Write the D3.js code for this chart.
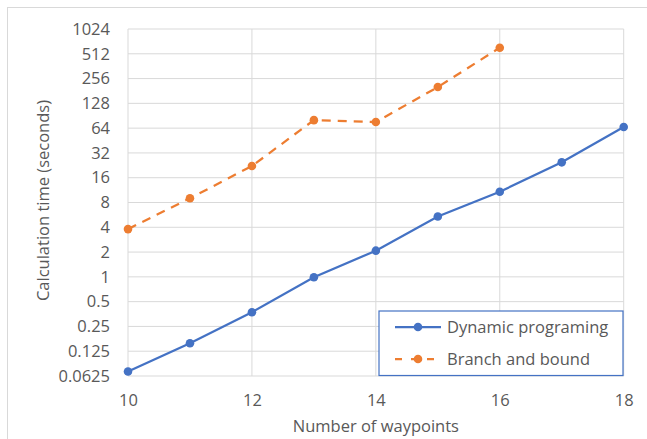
<!DOCTYPE html>
<html><head><meta charset="utf-8">
<script src="https://cdn.jsdelivr.net/npm/d3@7"></script>
<style>body{margin:0;background:#fff}svg{display:block}text{font-family:"Open Sans",sans-serif;fill:#595959}</style>
</head><body><svg id="c" width="647" height="439"></svg>
<script>
const waypoints = [10,11,12,13,14,15,16,17,18];
const dynamicProgramming = [0.071,0.156,0.372,0.99,2.08,5.4,10.8,24.6,66];
const branchAndBound = [3.8,9.0,22.2,80,76,202,607];
const yTicks = [0.0625,0.125,0.25,0.5,1,2,4,8,16,32,64,128,256,512,1024];
const xTicks = [10,12,14,16,18];
const seriesNames = ["Dynamic programing","Branch and bound"];

const FS = "16.5px";
const svg = d3.select("#c");
const L=128,R=623.7,T=29,B=376;
svg.append("rect").attr("x",7.5).attr("y",7.5).attr("width",700).attr("height",500)
  .attr("fill","none").attr("stroke","#d9d9d9");
const x = d3.scaleLinear().domain([10,18]).range([L,R]);
const y = d3.scaleLog().base(2).domain([0.0625,1024]).range([B,T]);

const g = svg.append("g");
g.selectAll(".hg").data(yTicks).join("line")
  .attr("x1",L).attr("x2",R).attr("y1",d=>y(d)).attr("y2",d=>y(d))
  .attr("stroke","#d9d9d9").attr("stroke-width",1);
g.selectAll(".vg").data(xTicks).join("line")
  .attr("x1",d=>x(d)).attr("x2",d=>x(d)).attr("y1",T).attr("y2",B)
  .attr("stroke","#d9d9d9").attr("stroke-width",1);

const yAxis = d3.axisLeft(y).tickValues(yTicks).tickFormat(d=>String(d)).tickSize(0).tickPadding(18);
const ya = svg.append("g").attr("transform",`translate(${L},0)`).call(yAxis);
ya.select(".domain").remove();
ya.selectAll("text").style("font-size",FS).attr("fill","#595959");

const xAxis = d3.axisBottom(x).tickValues(xTicks).tickFormat(d3.format("d")).tickSize(0).tickPadding(18);
const xa = svg.append("g").attr("transform",`translate(0,${B})`).call(xAxis);
xa.select(".domain").remove();
xa.selectAll("text").style("font-size",FS).attr("fill","#595959");

svg.append("text").attr("x",(L+R)/2).attr("y",432).attr("text-anchor","middle")
  .style("font-size",FS).text("Number of waypoints");
svg.append("text").attr("transform",`translate(49,${(T+B)/2-2}) rotate(-90)`).attr("text-anchor","middle")
  .style("font-size",FS).text("Calculation time (seconds)");

const line = d3.line().x(d=>x(d[0])).y(d=>y(d[1]));
const dp = waypoints.map((w,i)=>[w,dynamicProgramming[i]]);
const bb = branchAndBound.map((v,i)=>[waypoints[i],v]);
const blue="#4472C4", orange="#ED7D31";
svg.append("path").datum(dp).attr("d",line).attr("fill","none").attr("stroke",blue).attr("stroke-width",2.25);
svg.selectAll(".dpm").data(dp).join("circle").attr("cx",d=>x(d[0])).attr("cy",d=>y(d[1])).attr("r",4.3).attr("fill",blue);
svg.append("path").datum(bb).attr("d",line).attr("fill","none").attr("stroke",orange).attr("stroke-width",2.25).attr("stroke-dasharray","9,7");
svg.selectAll(".bbm").data(bb).join("circle").attr("cx",d=>x(d[0])).attr("cy",d=>y(d[1])).attr("r",4.3).attr("fill",orange);

// legend
const lg = svg.append("g");
lg.append("rect").attr("x",379).attr("y",311).attr("width",244).attr("height",64.5).attr("fill","#fff").attr("stroke",blue).attr("stroke-width",1.2);
const rows=[{c:blue,dash:null,y:327},{c:orange,dash:"7,9",y:359}];
rows.forEach((r,i)=>{
  lg.append("line").attr("x1",395).attr("x2",441).attr("y1",r.y).attr("y2",r.y).attr("stroke",r.c).attr("stroke-width",2.25).attr("stroke-dasharray",r.dash);
  lg.append("circle").attr("cx",418).attr("cy",r.y).attr("r",4.3).attr("fill",r.c);
  lg.append("text").attr("x",447).attr("y",r.y).attr("dy","0.35em").style("font-size",FS).text(seriesNames[i]);
});
</script></body></html>
